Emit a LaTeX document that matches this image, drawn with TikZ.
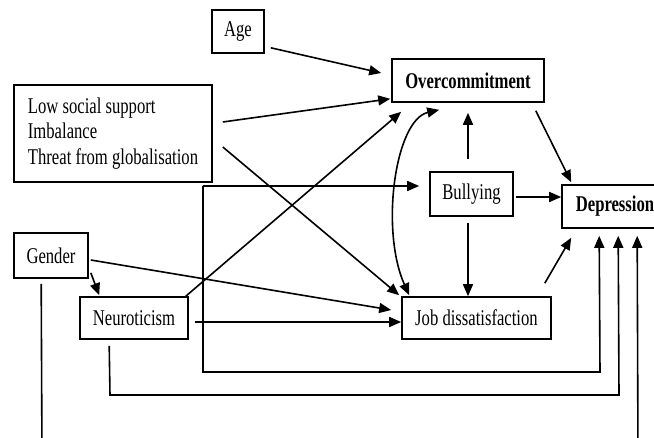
\documentclass[tikz,border=0pt]{standalone}
\usepackage{fontspec}
\setmainfont{Liberation Serif}[FakeStretch=0.74]
\usetikzlibrary{arrows.meta,calc}
\begin{document}
\begin{tikzpicture}[x=1pt,y=-1pt,
  box/.style={draw,line width=1.6pt,inner sep=0pt,font=\fontsize{22.5}{25.5}\selectfont},
  arr/.style={line width=1.6pt,-{Triangle[length=12pt,width=10pt]}},
  darr/.style={line width=1.6pt,{Triangle[length=12pt,width=10pt]}-{Triangle[length=12pt,width=10pt]}},
  ln/.style={line width=1.6pt}]
\useasboundingbox (0,0) rectangle (654,438);
\clip (0,0) rectangle (654,438);
% nodes
\node[box,minimum width=52pt,minimum height=43pt] (age) at (238,31.5) {Age};
\node[box,minimum width=198pt,minimum height=97pt,align=left] (ls) at (113,133.5) {Low social support\\Imbalance\\Threat from globalisation};
\node[box,minimum width=152pt,minimum height=43pt] (oc) at (468,80.5) {\textbf{Overcommitment}};
\node[box,minimum width=83pt,minimum height=44pt] (bu) at (471.5,194) {Bullying};
\node[box,minimum width=106pt,minimum height=43pt] (dep) at (615,206.5) {\textbf{Depression}};
\node[box,minimum width=74pt,minimum height=45pt] (gen) at (51,255.5) {Gender};
\node[box,minimum width=108pt,minimum height=42pt] (neu) at (134,318) {Neuroticism};
\node[box,minimum width=149pt,minimum height=42pt] (jd) at (476.5,318) {Job dissatisfaction};
% connectors
\draw[arr] ([shift={(6,-6)}]age.south east) -- ([shift={(-10,-7.5)}]oc.west);
\draw[arr] ([shift={(10,-11.5)}]ls.east) -- ([shift={(-1,-4)}]oc.south west);
\draw[arr] ([shift={(10,13.5)}]ls.east) -- ([shift={(-2,-1)}]jd.north west);
\draw[arr] ([shift={(-3,0)}]neu.north east) -- ([shift={(10,9)}]oc.south west);
\draw[arr] ([shift={(2,-6)}]gen.south east) -- ([shift={(20,-1)}]neu.north west);
\draw[arr] ([shift={(2,4.5)}]gen.east) -- ([shift={(-10,-8)}]jd.west);
\draw[arr] ([shift={(6,4)}]neu.east) -- ([shift={(0,4)}]jd.west);
\draw[darr] ([shift={(48,7)}]oc.south west) .. controls (395,120) and (380,230) .. ([shift={(8,-1)}]jd.north west);
\draw[arr] ([shift={(-3.5,-12)}]bu.north) -- ([shift={(0,10)}]oc.south);
\draw[arr] ([shift={(-3.5,6)}]bu.south) -- ([shift={(-8.5,0)}]jd.north);
\draw[arr] ([shift={(2,3)}]bu.east) -- ([shift={(0,-9.5)}]dep.west);
\draw[arr] ([shift={(-9,8)}]oc.south east) -- ([shift={(10,-2)}]dep.north west);
\draw[arr] ([shift={(-7,-13)}]jd.north east) -- ([shift={(10,9)}]dep.south west);
% frame paths
\coordinate (c1) at (203,186);
\coordinate (c2) at (203,372);
\coordinate (c3) at (600,372);
\draw[arr] (c1) -- ([shift={(-10,-8)}]bu.west);
\draw[arr] (c1) -- (c2) -- (c3) -- ([shift={(38,7)}]dep.south west);
\coordinate (n1) at (110,395);
\coordinate (n2) at (619,395);
\draw[arr] ([shift={(30,6)}]neu.south west) -- (n1) -- (n2) -- ([shift={(57,7)}]dep.south west);
\coordinate (g1) at (42,460);
\coordinate (g2) at (638,460);
\draw[arr] ([shift={(28,5)}]gen.south west) -- (g1) -- (g2) -- ([shift={(76,7)}]dep.south west);
\end{tikzpicture}
\end{document}
